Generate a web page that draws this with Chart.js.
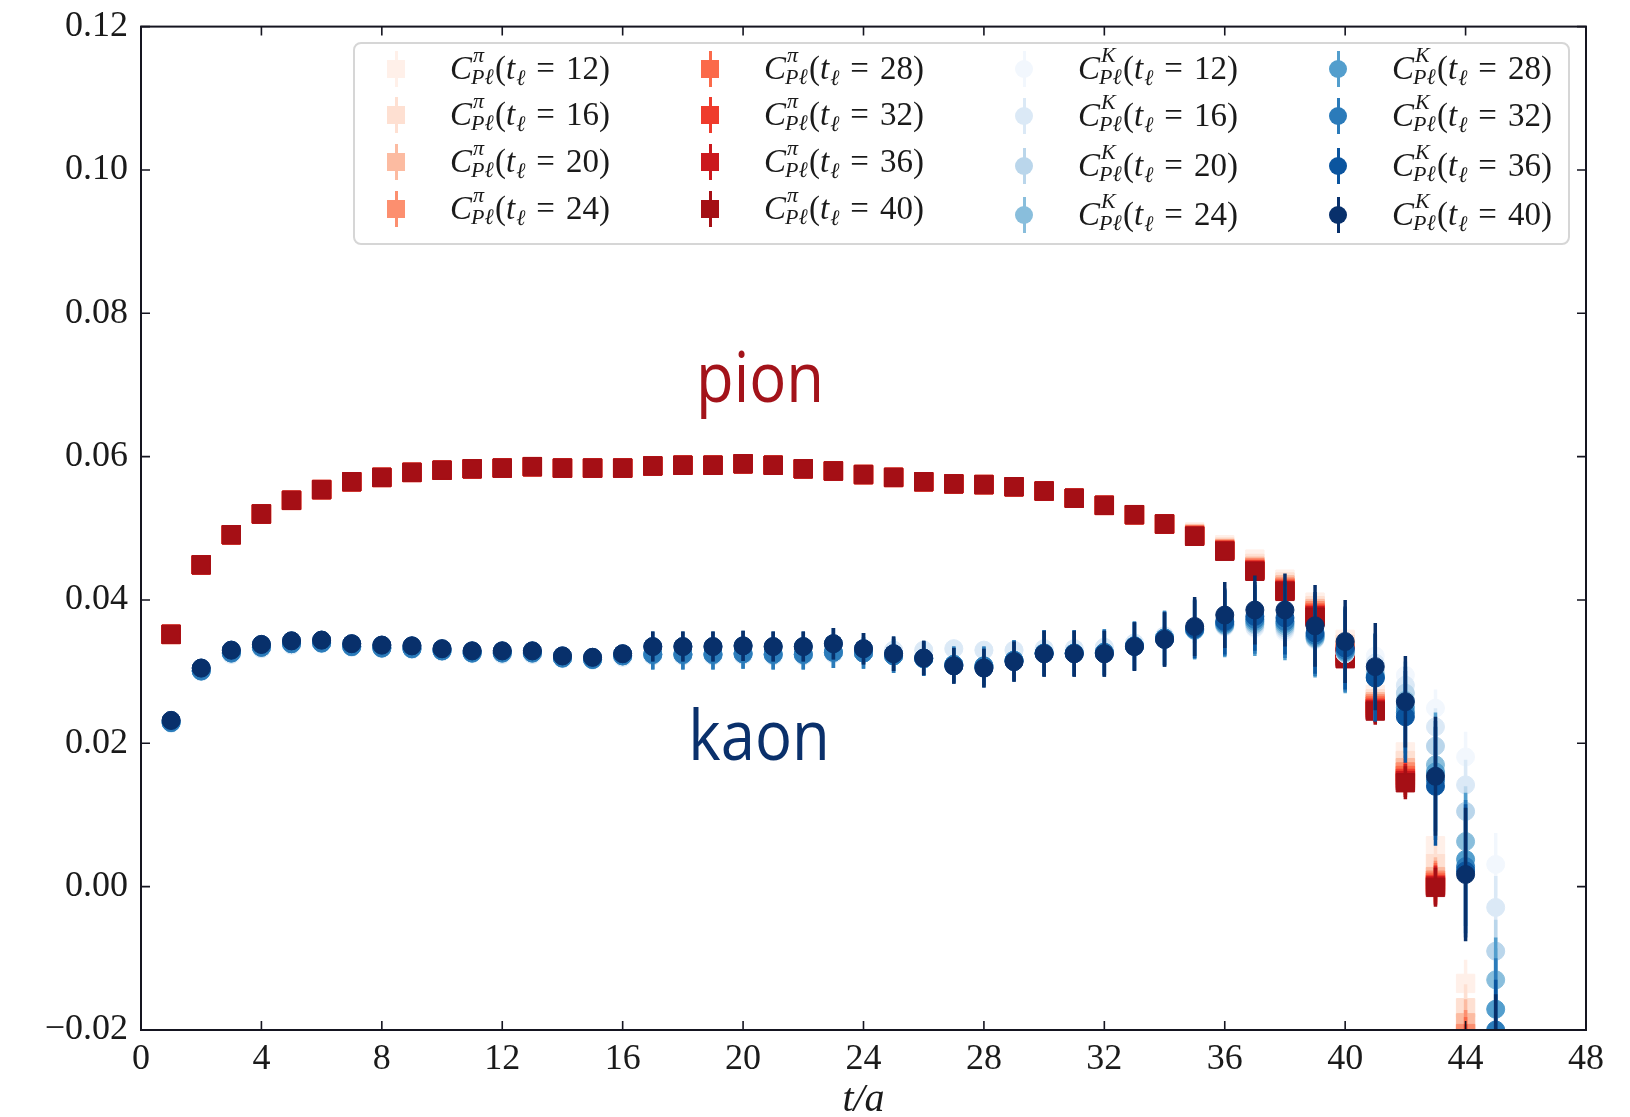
<!DOCTYPE html>
<html>
<head>
<meta charset="utf-8">
<script src="https://cdn.jsdelivr.net/npm/chart.js@4.4.0/dist/chart.umd.min.js"></script>
<style>
  body { margin: 0; background: #fff; }
  #wrap { position: relative; width: 1630px; height: 1117px; overflow: hidden; }
  #chart { position: absolute; left: 0; top: 0; }
  .legend-box { position: absolute; left: 353px; top: 42px; width: 1213px; height: 199px;
    border: 2px solid #d6d6d6; border-radius: 8px; background: rgba(255,255,255,0.85); }
  .mark { position: absolute; width: 18px; height: 18px; }
  .bar { position: absolute; width: 3px; height: 36px; }
  .txt { position: absolute; font-family: 'Liberation Serif', serif; font-size: 33px; line-height: 33px;
    color: #1a1a1a; white-space: nowrap; }
  .stk { display: inline-block; position: relative; width: 23px; height: 1px; }
  .stk .sp, .stk .sb { position: absolute; font-size: 22px; line-height: 22px; white-space: nowrap; font-style: italic; }
  .stk .sp { bottom: 13px; left: 1px; }
  .stk .sb { bottom: -9px; left: -1px; }
  .lsub { font-size: 22px; line-height: 0; position: relative; top: 6px; margin-left: 1px; font-style: italic; }
  .eq { margin: 0 11px; }
  .tag { position: absolute; font-family: 'Open Sans', sans-serif; font-size: 70px; line-height: 70px;
    transform: translateX(-50%) scaleX(0.88); white-space: nowrap; }
</style>
</head>
<body>
<div id="wrap">
  <canvas id="chart" width="1630" height="1117"></canvas>
  <div class="legend-box"></div>
  <div class="tag" style="left:760px; top:340px; color:#a3131a;">pion</div>
  <div class="tag" style="left:759px; top:698px; color:#0a306b;">kaon</div>
</div>
<script>
// t/a positions
const tValues = [1, 2, 3, 4, 5, 6, 7, 8, 9, 10, 11, 12, 13, 14, 15, 16, 17, 18, 19, 20,
  21, 22, 23, 24, 25, 26, 27, 28, 29, 30, 31, 32, 33, 34, 35, 36, 37, 38, 39, 40,
  41, 42, 43, 44, 45];
const tlValues = [12, 16, 20, 24, 28, 32, 36, 40];

const pionColors = ["#fff0e9", "#fee0d2", "#fcbba1", "#fc8f6f", "#fb6a4a", "#ef3b2c", "#cb181d", "#a50f15"];
const kaonColors = ["#f2f7fd", "#dbe9f6", "#bad6eb", "#89bedc", "#539ecd", "#2b7bba", "#0b559f", "#08306b"];

// pion: all t_l overlap up to t = 34
const pionBase = [0.0352, 0.0449, 0.0491, 0.0520, 0.0539, 0.0554, 0.0565, 0.0571, 0.0578, 0.0581,
  0.0583, 0.0584, 0.0586, 0.0584, 0.0584, 0.0584, 0.0587, 0.0588, 0.0588, 0.0590,
  0.0588, 0.0583, 0.0580, 0.0575, 0.0571, 0.0565, 0.0562, 0.0561, 0.0558, 0.0552,
  0.0542, 0.0532, 0.0519, 0.0506];
// t = 35 .. 44
const pionTail12 = [0.0495, 0.0477, 0.0457, 0.0429, 0.0397, 0.0345, 0.0268, 0.0188, 0.0057, -0.0135];
const pionTail16 = [0.0493, 0.0474, 0.0451, 0.0425, 0.0392, 0.0338, 0.0262, 0.0176, 0.0032, -0.0169];
const pionTail20 = [0.0492, 0.0472, 0.0447, 0.0421, 0.0388, 0.0332, 0.0258, 0.0166, 0.0014, -0.0190];
const pionTail24 = [0.0491, 0.0471, 0.0445, 0.0418, 0.0385, 0.0328, 0.0255, 0.0160, 0.0009, -0.0205];
const pionTail28 = [0.0490, 0.0470, 0.0443, 0.0416, 0.0382, 0.0325, 0.0252, 0.0155, 0.0006, -0.0215];
const pionTail32 = [0.0490, 0.0469, 0.0442, 0.0414, 0.0380, 0.0322, 0.0249, 0.0151, 0.0003, -0.0225];
const pionTail36 = [0.0489, 0.0469, 0.0441, 0.0413, 0.0378, 0.0320, 0.0247, 0.0148, 0.0001, -0.0232];
const pionTail40 = [0.0489, 0.0468, 0.0440, 0.0412, 0.0376, 0.0318, 0.0245, 0.0145, -0.0001, -0.0240];
const pionErr = [0.0004, 0.0004, 0.0004, 0.0004, 0.0004, 0.0004, 0.0004, 0.0004, 0.0004, 0.0004,
  0.0004, 0.0004, 0.0004, 0.0004, 0.0004, 0.0004, 0.0004, 0.0004, 0.0004, 0.0004,
  0.0004, 0.0004, 0.0004, 0.0004, 0.0004, 0.0004, 0.0004, 0.0004, 0.0004, 0.0004,
  0.0004, 0.0004, 0.0004, 0.0004, 0.0004, 0.0004, 0.0004, 0.0004, 0.0008, 0.0012,
  0.0019, 0.0023, 0.0027, 0.0033];

// kaon t = 1 .. 34: palest (t_l 12,16), middle (20..32), darkest (36,40)
const kaonEarlyPale = [0.0228, 0.0300, 0.0324, 0.0332, 0.0337, 0.0339, 0.0334, 0.0332, 0.0331, 0.0328,
  0.0325, 0.0324, 0.0324, 0.0318, 0.0316, 0.0320, 0.0322, 0.0322, 0.0322, 0.0323,
  0.0322, 0.0322, 0.0325, 0.0328, 0.0330, 0.0330, 0.0332, 0.0330, 0.0330, 0.0332,
  0.0332, 0.0334, 0.0340, 0.0350];
const kaonEarlyMid = [0.0229, 0.0301, 0.0326, 0.0334, 0.0339, 0.0340, 0.0335, 0.0333, 0.0332, 0.0329,
  0.0326, 0.0326, 0.0326, 0.0319, 0.0317, 0.0322, 0.0324, 0.0324, 0.0324, 0.0325,
  0.0324, 0.0324, 0.0327, 0.0326, 0.0322, 0.0318, 0.0310, 0.0308, 0.0316, 0.0326,
  0.0326, 0.0327, 0.0336, 0.0347];
const kaonEarlyDark = [0.0232, 0.0305, 0.0330, 0.0338, 0.0343, 0.0344, 0.0339, 0.0337, 0.0336, 0.0332,
  0.0329, 0.0329, 0.0329, 0.0322, 0.0320, 0.0325, 0.0335, 0.0335, 0.0335, 0.0336,
  0.0335, 0.0335, 0.0339, 0.0332, 0.0325, 0.0319, 0.0308, 0.0305, 0.0314, 0.0325,
  0.0325, 0.0325, 0.0335, 0.0345];
// t = 35 .. 45
const kaonTail12 = [0.0357, 0.0362, 0.0360, 0.0355, 0.0344, 0.0325, 0.0322, 0.0295, 0.0249, 0.0181, 0.0031];
const kaonTail16 = [0.0357, 0.0363, 0.0362, 0.0358, 0.0345, 0.0325, 0.0312, 0.0281, 0.0223, 0.0142, -0.0029];
const kaonTail20 = [0.0358, 0.0364, 0.0365, 0.0361, 0.0346, 0.0326, 0.0300, 0.0270, 0.0196, 0.0105, -0.0090];
const kaonTail24 = [0.0358, 0.0365, 0.0367, 0.0364, 0.0347, 0.0327, 0.0295, 0.0260, 0.0170, 0.0063, -0.0130];
const kaonTail28 = [0.0358, 0.0366, 0.0370, 0.0367, 0.0349, 0.0328, 0.0293, 0.0250, 0.0160, 0.0038, -0.0171];
const kaonTail32 = [0.0359, 0.0368, 0.0373, 0.0370, 0.0351, 0.0330, 0.0292, 0.0243, 0.0148, 0.0028, -0.0200];
const kaonTail36 = [0.0360, 0.0370, 0.0377, 0.0375, 0.0354, 0.0333, 0.0291, 0.0237, 0.0140, 0.0022, -0.0230];
const kaonTail40 = [0.0363, 0.0379, 0.0386, 0.0386, 0.0364, 0.0342, 0.0307, 0.0258, 0.0154, 0.0017, -0.0250];
const kaonErrDark = [0.0006, 0.0006, 0.0006, 0.0006, 0.0006, 0.0006, 0.0006, 0.0006, 0.0006, 0.0006,
  0.0006, 0.0006, 0.0006, 0.0006, 0.0006, 0.0006, 0.0021, 0.0021, 0.0021, 0.0021,
  0.0021, 0.0021, 0.0022, 0.0022, 0.0024, 0.0024, 0.0025, 0.0027, 0.0028, 0.0032,
  0.0032, 0.0032, 0.0034, 0.0038, 0.0041, 0.0046, 0.0048, 0.0051, 0.0057, 0.0058,
  0.0061, 0.0064, 0.0083, 0.0093, 0.0100];
const kaonErrLight = [0.0005, 0.0005, 0.0005, 0.0005, 0.0005, 0.0005, 0.0005, 0.0005, 0.0005, 0.0005,
  0.0005, 0.0005, 0.0005, 0.0005, 0.0005, 0.0005, 0.0010, 0.0010, 0.0010, 0.0010,
  0.0010, 0.0010, 0.0010, 0.0010, 0.0010, 0.0010, 0.0010, 0.0010, 0.0010, 0.0010,
  0.0015, 0.0015, 0.0015, 0.0015, 0.0018, 0.0020, 0.0020, 0.0020, 0.0020, 0.0020,
  0.0024, 0.0026, 0.0026, 0.0035, 0.0044];

const pionSeries = [pionTail12, pionTail16, pionTail20, pionTail24, pionTail28, pionTail32, pionTail36, pionTail40]
  .map(tail => pionBase.concat(tail));
const kaonEarly = [kaonEarlyPale, kaonEarlyPale, kaonEarlyMid, kaonEarlyMid, kaonEarlyMid, kaonEarlyMid, kaonEarlyDark, kaonEarlyDark];
const kaonSeries = [kaonTail12, kaonTail16, kaonTail20, kaonTail24, kaonTail28, kaonTail32, kaonTail36, kaonTail40]
  .map((tail, i) => kaonEarly[i].concat(tail));

const datasets = [];
let k = 0;
pionSeries.forEach((vals, i) => {
  datasets.push({
    data: vals.map((v, j) => ({ x: tValues[j], y: v })),
    errors: pionErr,
    backgroundColor: pionColors[i], borderColor: pionColors[i], borderWidth: 1,
    pointStyle: "rect", pointRadius: 13, pointHoverRadius: 13,
    order: 20 - k++
  });
});
kaonSeries.forEach((vals, i) => {
  datasets.push({
    data: vals.map((v, j) => ({ x: tValues[j], y: v })),
    errors: i < 4 ? kaonErrLight : kaonErrDark,
    backgroundColor: kaonColors[i], borderColor: kaonColors[i], borderWidth: 1,
    pointStyle: "circle", pointRadius: 9, pointHoverRadius: 9,
    order: 20 - k++
  });
});

// vertical error bars, drawn right before each dataset so layering matches
const errorBars = {
  id: "errorBars",
  beforeDatasetDraw(chart, args) {
    const ds = chart.data.datasets[args.index];
    const y = chart.scales.y, a = chart.chartArea, ctx = chart.ctx;
    ctx.save();
    ctx.beginPath();
    ctx.rect(a.left, a.top, a.right - a.left, a.bottom - a.top);
    ctx.clip();
    ctx.strokeStyle = ds.borderColor;
    ctx.lineWidth = 3.5;
    args.meta.data.forEach((pt, i) => {
      const v = ds.data[i].y, e = ds.errors[i];
      ctx.beginPath();
      ctx.moveTo(pt.x, y.getPixelForValue(v + e));
      ctx.lineTo(pt.x, y.getPixelForValue(v - e));
      ctx.stroke();
    });
    ctx.restore();
  }
};

// box frame with inward ticks on all sides
const frame = {
  id: "frame",
  afterDatasetsDraw(chart) {
    const { ctx, chartArea: a, scales: { x, y } } = chart;
    ctx.save();
    ctx.strokeStyle = "#151520";
    ctx.lineWidth = 2;
    ctx.strokeRect(a.left, a.top, a.right - a.left, a.bottom - a.top);
    ctx.lineWidth = 1.6;
    ctx.beginPath();
    x.ticks.forEach(t => {
      const px = x.getPixelForValue(t.value);
      ctx.moveTo(px, a.bottom); ctx.lineTo(px, a.bottom - 9);
      ctx.moveTo(px, a.top); ctx.lineTo(px, a.top + 9);
    });
    y.ticks.forEach(t => {
      const py = y.getPixelForValue(t.value);
      ctx.moveTo(a.left, py); ctx.lineTo(a.left + 9, py);
      ctx.moveTo(a.right, py); ctx.lineTo(a.right - 9, py);
    });
    ctx.stroke();
    ctx.restore();
  }
};

const serif = "'Liberation Serif', 'DejaVu Serif', serif";

new Chart(document.getElementById("chart").getContext("2d"), {
  type: "scatter",
  data: { datasets },
  options: {
    responsive: false,
    animation: false,
    layout: { padding: { top: 18, right: 44, left: 0, bottom: 0 } },
    plugins: { legend: { display: false }, tooltip: { enabled: false } },
    scales: {
      x: {
        type: "linear", min: 0, max: 48,
        grid: { display: false }, border: { display: false },
        ticks: { stepSize: 4, autoSkip: false, maxRotation: 0, padding: 0, color: "#1a1a1a",
          font: { family: serif, size: 36 } },
        title: { display: true, text: "t/a", color: "#1a1a1a", padding: { top: 0, bottom: -7 },
          font: { family: serif, size: 40, style: "italic" } },
        afterFit(s) { s.height = 87; }
      },
      y: {
        type: "linear", min: -0.02, max: 0.12,
        grid: { display: false }, border: { display: false },
        ticks: { stepSize: 0.02, autoSkip: false, padding: 5, color: "#1a1a1a",
          font: { family: serif, size: 36 },
          callback: v => (v < -1e-9 ? "\u2212" : "") + Math.abs(v).toFixed(2) },
        afterFit(s) { s.width = 141; }
      }
    }
  },
  plugins: [errorBars, frame]
});

// legend, laid out in four columns like the original
const wrap = document.getElementById("wrap");
const colX = [396, 710, 1024, 1338];
const pionRowY = [69, 115, 162, 209];
const kaonRowY = [69, 116, 166, 215];

function addEntry(cx, cy, color, round, sym, tl) {
  const bar = document.createElement("div");
  bar.className = "bar";
  bar.style.cssText = `left:${cx - 1.5}px; top:${cy - 18}px; background:${color};`;
  const mk = document.createElement("div");
  mk.className = "mark";
  mk.style.cssText = `left:${cx - 9}px; top:${cy - 9}px; background:${color};` + (round ? "border-radius:50%;" : "");
  const tx = document.createElement("div");
  tx.className = "txt";
  tx.style.cssText = `left:${cx + 54}px; top:${cy - 17}px;`;
  tx.innerHTML = `<i>C</i><span class="stk"><span class="sp">${sym}</span><span class="sb">P\u2113</span></span>(<i>t</i><span class="lsub">\u2113</span><span class="eq">=</span>${tl})`;
  wrap.appendChild(bar);
  wrap.appendChild(mk);
  wrap.appendChild(tx);
}

tlValues.forEach((tl, i) => {
  const col = Math.floor(i / 4), row = i % 4;
  addEntry(colX[col], pionRowY[row], pionColors[i], false, "\u03c0", tl);
  addEntry(colX[col + 2], kaonRowY[row], kaonColors[i], true, "K", tl);
});
</script>
</body>
</html>
